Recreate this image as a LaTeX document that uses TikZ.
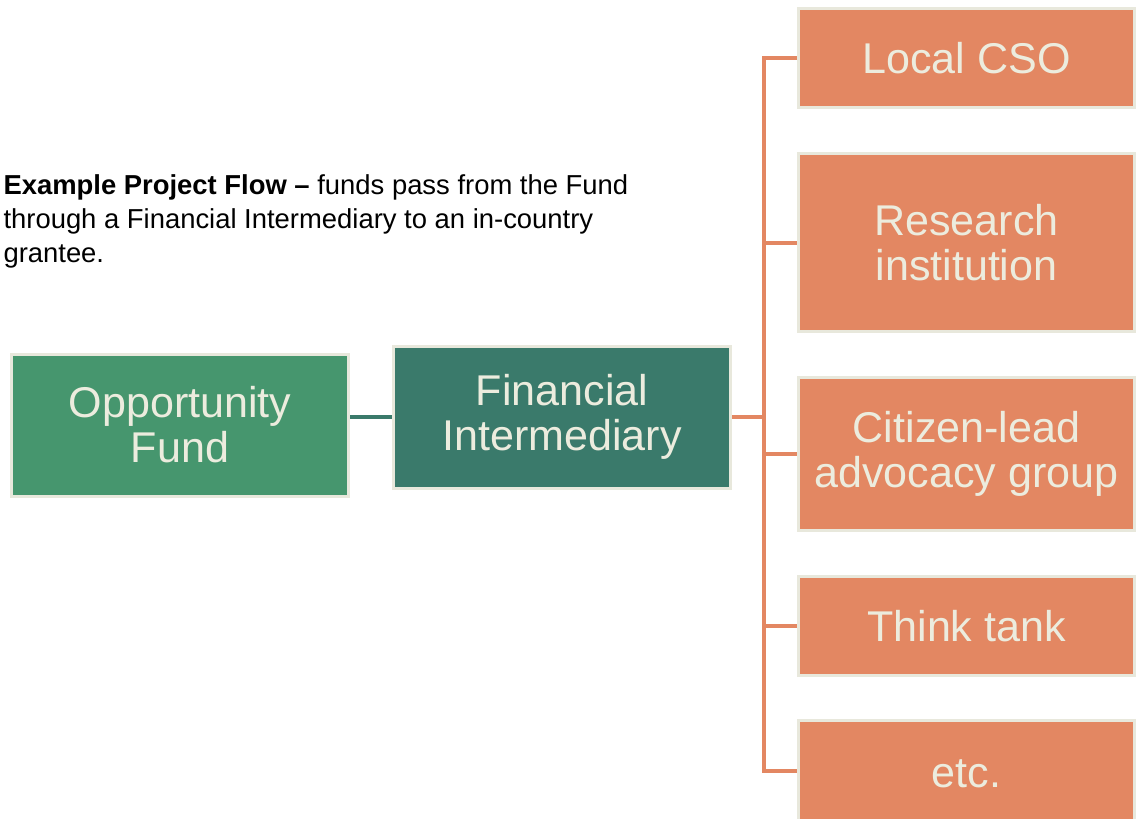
\documentclass[tikz,border=0pt]{standalone}
\usepackage{fontspec}
\setmainfont{Liberation Sans}
\usepackage{tikz}
\usetikzlibrary{positioning,calc}

\definecolor{fundGreen}{RGB}{70,150,110}
\definecolor{fiTeal}{RGB}{58,122,107}
\definecolor{granteeOrange}{RGB}{227,135,98}
\definecolor{paleBorder}{RGB}{232,232,220}
\definecolor{paleText}{RGB}{236,236,222}

\begin{document}
\begin{tikzpicture}[semithick]

\tikzset{
	flowBox/.style={
		rectangle,
		draw=paleBorder,
		line width=0.06cm,
		text=paleText,
		align=center,
		inner sep=0pt,
		font=\fontsize{24.5pt}{25.5pt}\selectfont
	}
}

\tikzset{
	fundBox/.style={
		flowBox,
		fill=fundGreen,
		minimum width=6.74cm,
		minimum height=2.84cm
	}
}

\tikzset{
	interBox/.style={
		flowBox,
		fill=fiTeal,
		minimum width=6.74cm,
		minimum height=2.84cm
	}
}

\tikzset{
	granteeBox/.style={
		flowBox,
		fill=granteeOrange,
		minimum width=6.72cm
	}
}

\tikzset{
	tealLink/.style={-, draw=fiTeal, line width=0.08cm},
	orangeLink/.style={-, draw=granteeOrange, line width=0.08cm}
}

\clip (0,0) rectangle (22.74,-16.36);

% caption
\node[anchor=north west, inner sep=0pt, align=left,
	font=\fontsize{15.6pt}{19.3pt}\selectfont] (caption) at (0.06,-3.48)
	{\textbf{Example Project Flow --} funds pass from the Fund\\
	through a Financial Intermediary to an in-country\\
	grantee.};

% fund and intermediary
\node[fundBox](OF) at (3.6,-8.5) {Opportunity\\Fund};
\node[interBox](FI) [right=0.84cm of OF, yshift=0.16cm] {Financial\\Intermediary};

% grantees
\node[granteeBox, minimum height=1.98cm](CSO) at (19.33,-1.16) {Local CSO};
\node[granteeBox, minimum height=3.56cm](Research) [below=0.86cm of CSO] {Research\\institution};
\node[granteeBox, minimum height=3.06cm](Citizen) [below=0.86cm of Research] {Citizen-lead\\advocacy group};
\node[granteeBox, minimum height=1.98cm](Think) [below=0.86cm of Citizen] {Think tank};
\node[granteeBox, minimum height=2.3cm](Etc) [below=0.84cm of Think] {\raisebox{0.16cm}{etc.}};

\coordinate (bus) at ($(Think.west)+(-0.66,-2.9)$);

\draw[tealLink] (FI.west -| OF.east) -- (FI.west);

\draw[orangeLink] (CSO.west) -| (bus) -- (bus -| Etc.west);
\path[orangeLink] (bus |- Research.west) edge (Research.west);
\path[orangeLink] (bus |- Citizen.west) edge (Citizen.west);
\path[orangeLink] (bus |- Think.west) edge (Think.west);
\path[orangeLink] (FI.east) edge (FI.east -| bus);

\end{tikzpicture}
\end{document}
